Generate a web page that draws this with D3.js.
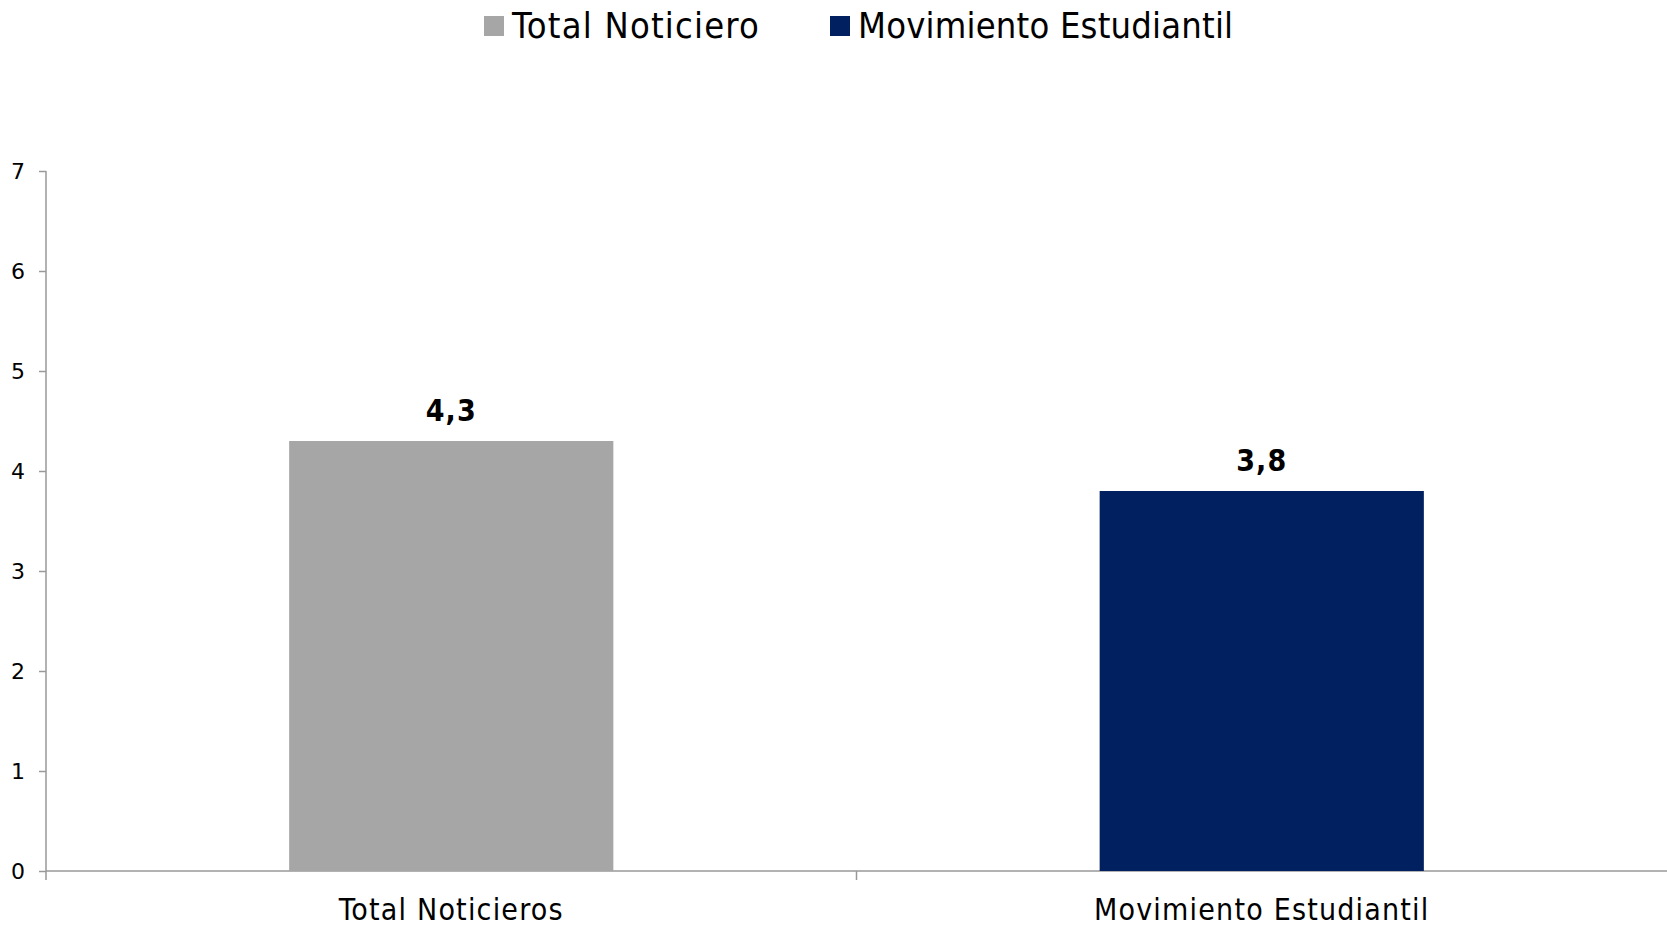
<!DOCTYPE html>
<html>
<head>
<meta charset="utf-8">
<script src="https://cdn.jsdelivr.net/npm/d3@7"></script>
<style>
  body { margin: 0; background: #fff; }
  text { font-family: "DejaVu Sans Condensed", "DejaVu Sans", sans-serif; }
</style>
</head>
<body>
<script>
var w = 1667;
var h = 927;

var categories = ["Total Noticieros", "Movimiento Estudiantil"];
var seriesNames = ["Total Noticiero", "Movimiento Estudiantil"];
var values = [4.3, 3.8];
var labels = ["4,3", "3,8"];
var colors = ["#A6A6A6", "#002060"];
var yTicks = [0, 1, 2, 3, 4, 5, 6, 7];

var mLeft = 46, mRight = 1667, mTop = 171, mBottom = 871;

var svg = d3.select("body").append("svg").attr("width", w).attr("height", h);

var x = d3.scaleBand().domain(categories).range([mLeft, mRight]).paddingInner(0.6).paddingOuter(0.3);
var y = d3.scaleLinear().domain([0, 7]).range([mBottom, mTop]);

// y axis
var yAxis = svg.append("g")
  .attr("transform", "translate(" + mLeft + ",0)")
  .call(d3.axisLeft(y).tickValues(yTicks).tickFormat(d3.format("d")).tickSize(7).tickPadding(14));
yAxis.selectAll("line, path").attr("stroke", "#999").attr("stroke-width", 1.5);
yAxis.select(".domain").attr("d", "M0," + mTop + "V" + mBottom);
yAxis.selectAll("text").attr("font-size", "22px").attr("fill", "#000")
  .style("font-family", "'DejaVu Sans', sans-serif");

// x axis line with category separators
var xBand = d3.scaleBand().domain(categories).range([mLeft, mRight]);
svg.append("line")
  .attr("x1", mLeft).attr("x2", mRight)
  .attr("y1", mBottom).attr("y2", mBottom)
  .attr("stroke", "#999").attr("stroke-width", 1.5);
svg.selectAll(".sep")
  .data([mLeft, mLeft + xBand.bandwidth()])
  .enter()
  .append("line")
  .attr("x1", function (d) { return d; })
  .attr("x2", function (d) { return d; })
  .attr("y1", mBottom)
  .attr("y2", mBottom + 9)
  .attr("stroke", "#999").attr("stroke-width", 1.5);

svg.selectAll("rect.bar")
  .data(values)
  .enter()
  .append("rect")
  .attr("class", "bar")
  .attr("x", function (d, i) { return x(categories[i]); })
  .attr("y", function (d) { return y(d); })
  .attr("width", x.bandwidth())
  .attr("height", function (d) { return mBottom - y(d); })
  .attr("fill", function (d, i) { return colors[i]; });

svg.selectAll("text.val")
  .data(values)
  .enter()
  .append("text")
  .attr("class", "val")
  .text(function (d, i) { return labels[i]; })
  .attr("x", function (d, i) { return x(categories[i]) + x.bandwidth() / 2; })
  .attr("y", function (d) { return y(d) - 20; })
  .attr("text-anchor", "middle")
  .attr("font-size", "30px")
  .attr("font-weight", "bold")
  .attr("letter-spacing", "1px")
  .attr("fill", "#000");

svg.selectAll("text.cat")
  .data(categories)
  .enter()
  .append("text")
  .attr("class", "cat")
  .text(function (d) { return d; })
  .attr("x", function (d) { return x(d) + x.bandwidth() / 2; })
  .attr("y", 920)
  .attr("text-anchor", "middle")
  .attr("font-size", "30px")
  .attr("letter-spacing", "1.2px")
  .attr("fill", "#000");

// legend
var legendX = [484, 830];
var lg = svg.selectAll("g.legend")
  .data(seriesNames)
  .enter()
  .append("g")
  .attr("class", "legend")
  .attr("transform", function (d, i) { return "translate(" + legendX[i] + ",0)"; });
lg.append("rect")
  .attr("x", 0).attr("y", 16)
  .attr("width", 20).attr("height", 20)
  .attr("fill", function (d, i) { return colors[i]; });
lg.append("text")
  .text(function (d) { return d; })
  .attr("x", 28).attr("y", 38)
  .attr("font-size", "36px")
  .attr("letter-spacing", function (d, i) { return i === 0 ? "1.2px" : "0.2px"; })
  .attr("fill", "#000");
</script>
</body>
</html>
